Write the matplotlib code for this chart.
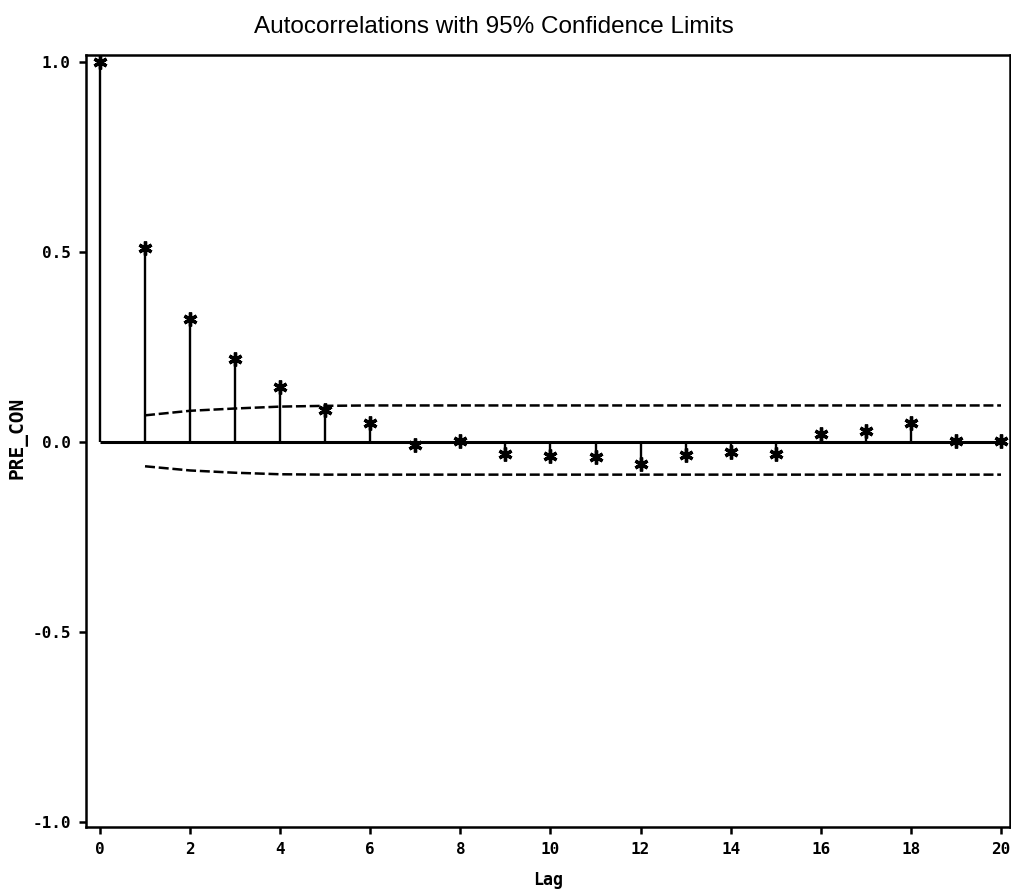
import numpy as np
import matplotlib.pyplot as plt

# autocorrelations
lags = np.arange(0, 21)
acf = [1.0, 0.511, 0.323, 0.219, 0.145, 0.085, 0.050, -0.009, 0.002, -0.032,
       -0.038, -0.040, -0.057, -0.035, -0.026, -0.033, 0.022, 0.030, 0.050,
       0.003, 0.003]

# 95% confidence limits (start at lag 1)
conf_lags = np.arange(1, 21)
upper = [0.070, 0.082, 0.088, 0.093, 0.095, 0.096, 0.096, 0.096, 0.096, 0.096,
         0.096, 0.096, 0.096, 0.096, 0.096, 0.096, 0.096, 0.096, 0.096, 0.096]
lower = [-0.064, -0.075, -0.081, -0.085, -0.086, -0.086, -0.086, -0.086, -0.086, -0.086,
         -0.086, -0.086, -0.086, -0.086, -0.086, -0.086, -0.086, -0.086, -0.086, -0.086]

yticks = [-1.0, -0.5, 0.0, 0.5, 1.0]
ytick_labels = ['-1.0', '-0.5', '0.0', '0.5', '1.0']
xticks = np.arange(0, 21, 2)

mono = 'DejaVu Sans Mono'

fig = plt.figure(figsize=(10.12, 8.94), dpi=100)
ax = fig.add_axes([86/1012, 1 - 827/894, (1010 - 86)/1012, (827 - 55)/894])

ax.hlines(0, lags[0], lags[-1], colors='k', lw=2.2)
ax.vlines(lags, 0, acf, colors='k', lw=1.7)
ax.plot(lags, acf, ls='none', marker=(6, 2, 0), ms=10, mew=2.4, color='k')
ax.plot(conf_lags, upper, color='k', ls='--', lw=1.8, dashes=(4, 1.5))
ax.plot(conf_lags, lower, color='k', ls='--', lw=1.8, dashes=(4, 1.5))

ax.set_xlim(-0.31, 20.2)
ax.set_ylim(-1.013, 1.018)
ax.set_xticks(xticks)
ax.set_xticklabels([str(t) for t in xticks], family=mono, weight='bold', fontsize=11.5)
ax.set_yticks(yticks)
ax.set_yticklabels(ytick_labels, family=mono, weight='bold', fontsize=11.5)
ax.tick_params(direction='out', length=5, width=1.8, pad=6)

for s in ax.spines.values():
    s.set_linewidth(1.8)

ax.set_xlabel('Lag', family=mono, weight='bold', fontsize=12, labelpad=10)
ax.set_ylabel('PRE_CON', family=mono, weight='bold', fontsize=14)
ax.yaxis.set_label_coords(-58/924, 0.5036)

fig.suptitle('Autocorrelations with 95% Confidence Limits', family='Liberation Sans',
             fontsize=17.5, x=0.488, y=0.982)

plt.savefig('out.png', dpi=100)
